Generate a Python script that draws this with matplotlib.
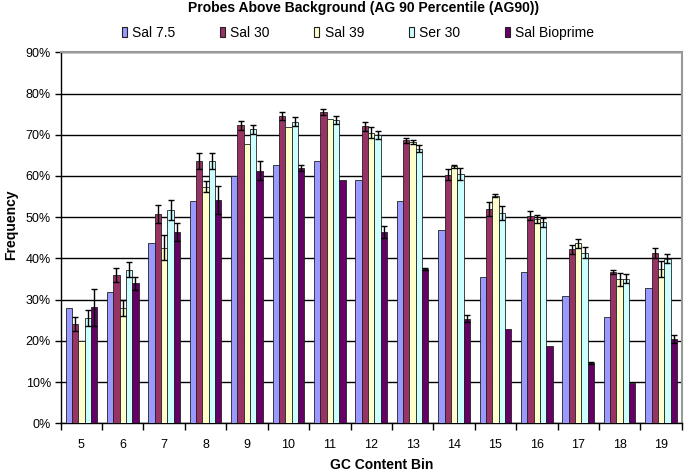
import matplotlib
matplotlib.use('Agg')
import matplotlib.pyplot as plt
from matplotlib.patches import Patch
import numpy as np

plt.rcParams['font.family'] = ['Liberation Sans', 'DejaVu Sans']

# GC Content Bin
bins = [5, 6, 7, 8, 9, 10, 11, 12, 13, 14, 15, 16, 17, 18, 19]
series = ['Sal 7.5', 'Sal 30', 'Sal 39', 'Ser 30', 'Sal Bioprime']
colors = ['#9999FF', '#993366', '#FFFFCC', '#CCFFFF', '#660066']

# 頻度 (%)
sal75 = [27.9, 31.9, 43.8, 53.9, 60.0, 62.6, 63.6, 58.9, 53.9, 46.8, 35.6, 36.6, 30.8, 25.9, 32.9]
sal30 = [24.1, 35.9, 50.8, 63.6, 72.3, 74.6, 75.5, 72.0, 68.6, 60.3, 52.1, 50.4, 42.2, 36.7, 41.3]
sal39 = [20.0, 27.9, 42.6, 57.4, 67.7, 71.8, 73.8, 70.5, 68.3, 62.3, 55.2, 49.6, 43.7, 34.9, 37.5]
ser30 = [25.5, 37.3, 51.8, 63.6, 71.3, 73.2, 73.6, 70.0, 66.6, 60.5, 51.1, 48.8, 41.4, 35.1, 39.9]
bioprime = [28.1, 34.0, 46.4, 54.2, 61.3, 62.0, 59.0, 46.4, 37.4, 25.4, 22.8, 18.8, 14.6, 9.8, 20.4]

# エラーバー
err_sal75 = [0] * 15
err_sal30 = [1.8, 1.7, 2.1, 2.0, 1.1, 1.0, 0.7, 1.0, 0.5, 1.3, 1.7, 1.0, 1.1, 0.4, 1.1]
err_sal39 = [0, 1.9, 3.0, 1.3, 0, 0, 0, 1.3, 0.5, 0.4, 0.4, 1.0, 1.1, 1.6, 1.9]
err_ser30 = [2.0, 1.8, 2.4, 2.0, 1.1, 1.0, 1.0, 1.0, 0.8, 1.5, 1.7, 1.1, 1.3, 1.1, 1.1]
err_bioprime = [4.5, 1.6, 2.3, 3.4, 2.3, 0.7, 0, 1.4, 0.3, 0.9, 0, 0, 0.3, 0, 1.0]

values = [sal75, sal30, sal39, ser30, bioprime]
errors = [err_sal75, err_sal30, err_sal39, err_ser30, err_bioprime]

fig = plt.figure(figsize=(6.85, 4.74), dpi=100)
ax = fig.add_axes([0.0886, 0.1070, 0.9066, 0.7827])

x = np.arange(len(bins))
w = 0.153
for i in range(len(series)):
    pos = x + (i - 2) * w
    ax.bar(pos, values[i], width=w, color=colors[i], edgecolor='#222222',
           linewidth=0.6, zorder=3)
    err = np.array(errors[i])
    mask = err > 0
    if mask.any():
        ax.errorbar(pos[mask], np.array(values[i])[mask], yerr=err[mask], fmt='none',
                    ecolor='black', elinewidth=1.0, capsize=2, capthick=1.0, zorder=4)

ax.set_xlim(-0.5, len(bins) - 0.5)
ax.set_ylim(0, 90)
ax.set_yticks(np.arange(0, 91, 10))
ax.set_yticklabels(['%d%%' % v for v in range(0, 91, 10)], fontsize=9)
ax.set_xticks(x)
ax.set_xticklabels([str(b) for b in bins], fontsize=9)
ax.set_xticks(np.arange(-0.5, len(bins), 1), minor=True)
ax.tick_params(axis='x', which='major', length=0, pad=11)
ax.tick_params(axis='x', which='minor', length=5, width=1, direction='out')
ax.tick_params(axis='y', length=4, width=1, direction='out', pad=3)

ax.yaxis.grid(True, color='black', linewidth=1.0, zorder=0)
ax.set_axisbelow(True)
for s in ['top', 'right']:
    ax.spines[s].set_color('#999999')
    ax.spines[s].set_linewidth(1.5)
for s in ['left', 'bottom']:
    ax.spines[s].set_color('black')
    ax.spines[s].set_linewidth(1.0)

ax.set_ylabel('Frequency', fontsize=10, fontweight='bold')
ax.yaxis.set_label_coords(-0.069, 0.535)
fig.text(381.5 / 685, 1 - 465 / 474, 'GC Content Bin', fontsize=10, fontweight='bold',
         ha='center', va='center')
fig.text(363.5 / 685, 1 - 8 / 474, 'Probes Above Background (AG 90 Percentile (AG90))',
         fontsize=10, fontweight='bold', ha='center', va='center')

handles = [Patch(facecolor=colors[i], edgecolor='#222222', linewidth=0.8) for i in range(len(series))]
fig.legend(handles, series, loc='center', bbox_to_anchor=(358 / 685, 1 - 33 / 474), ncol=5,
           frameon=False, fontsize=10, handlelength=0.35, handleheight=0.75,
           handletextpad=0.4, columnspacing=3.2)

fig.savefig('out.png', dpi=100)
